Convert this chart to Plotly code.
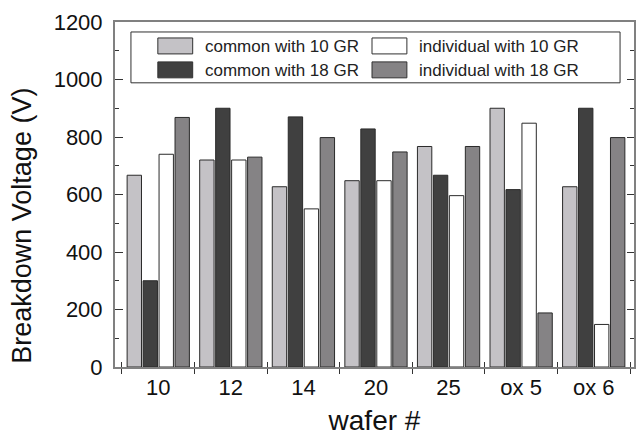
import plotly.graph_objects as go

# Breakdown voltage per wafer for the four guard-ring configurations
wafers = ["10", "12", "14", "20", "25", "ox 5", "ox 6"]
common_10gr = [667, 720, 627, 648, 767, 900, 627]
common_18gr = [300, 900, 870, 828, 667, 617, 900]
individual_10gr = [740, 720, 550, 648, 596, 848, 148]
individual_18gr = [868, 730, 798, 748, 767, 188, 798]

series_names = ["common with 10 GR", "common with 18 GR",
                "individual with 10 GR", "individual with 18 GR"]
series_values = [common_10gr, common_18gr, individual_10gr, individual_18gr]
series_colors = ["#c4c2c6", "#404040", "#ffffff", "#858385"]

y_range = [0, 1200]
x_range = [-0.596, 6.555]

fig = go.Figure()
for name, vals, col in zip(series_names, series_values, series_colors):
    fig.add_trace(go.Bar(
        x=wafers, y=vals, name=name,
        marker=dict(color=col, line=dict(color="#2a2a2a", width=1)),
        showlegend=False,
    ))

# Overlay axes carry the inward-pointing tick marks
fig.add_trace(go.Scatter(x=[None], y=[None], xaxis="x2", yaxis="y2",
                         showlegend=False, hoverinfo="skip"))

frame = "#808080"
font = "Arial, Liberation Sans, sans-serif"

fig.update_layout(
    width=639, height=436,
    margin=dict(l=115, r=3, t=22, b=68),
    paper_bgcolor="white", plot_bgcolor="white",
    barmode="group", bargap=0.12, bargroupgap=0.1,
    font=dict(family=font, color="#111111"),
    xaxis=dict(
        type="category", range=x_range, tickson="boundaries",
        ticks="outside", ticklen=5, tickcolor="#333333", tickwidth=1,
        showline=True, linecolor=frame, linewidth=2, mirror=True,
        showgrid=False, zeroline=False,
        tickfont=dict(size=22, family=font, color="#111111"),
        title=dict(text="wafer #", font=dict(size=28, family=font, color="#111111"),
                   standoff=13),
    ),
    yaxis=dict(
        range=y_range, dtick=200, ticks="inside", ticklen=8,
        tickcolor="#333333", tickwidth=1,
        minor=dict(dtick=100, ticks="inside", ticklen=4, tickcolor="#333333"),
        showline=True, linecolor=frame, linewidth=2, mirror=True,
        showgrid=False, zeroline=False, ticklabelstandoff=6,
        tickfont=dict(size=22, family=font, color="#111111"),
    ),
    xaxis2=dict(
        overlaying="x", range=x_range, side="bottom",
        tickmode="array", tickvals=[i - 0.5 for i in range(len(wafers) + 1)],
        ticks="inside", ticklen=5, tickcolor="#333333", tickwidth=1,
        showticklabels=False, showgrid=False, zeroline=False, showline=False,
    ),
    yaxis2=dict(
        overlaying="y", range=y_range, side="right", dtick=200,
        ticks="inside", ticklen=7, tickcolor="#333333", tickwidth=1,
        minor=dict(dtick=100, ticks="inside", ticklen=4, tickcolor="#333333"),
        showticklabels=False, showgrid=False, zeroline=False, showline=False,
    ),
)

# Boxed two-column key with wide swatches
L, R, B, T = 115, 636, 368, 22


def px(x):
    return (x - L) / (R - L)


def py(y):
    return (B - y) / (B - T)


shapes = [dict(type="rect", xref="paper", yref="paper",
               x0=px(131), x1=px(622), y0=py(83), y1=py(32),
               line=dict(color="#303030", width=1), fillcolor="white")]
annotations = [dict(xref="paper", yref="paper", x=px(22), y=py(226),
                    xanchor="center", yanchor="middle", showarrow=False,
                    textangle=-90, text="Breakdown Voltage (V)",
                    font=dict(size=27, family=font, color="#111111"))]
col_swatch = [158, 373]
col_text = [203, 418]
row_top = [38, 62]
order = [(0, 0), (1, 0), (0, 1), (1, 1)]  # (row, col) for each series
for (row, col), name, color in zip(order, series_names, series_colors):
    shapes.append(dict(type="rect", xref="paper", yref="paper",
                       x0=px(col_swatch[col]), x1=px(col_swatch[col] + 35),
                       y0=py(row_top[row] + 16), y1=py(row_top[row]),
                       line=dict(color="#303030", width=1), fillcolor=color))
    annotations.append(dict(xref="paper", yref="paper",
                            x=px(col_text[col]), y=py(row_top[row] + 8.5),
                            xanchor="left", yanchor="middle", showarrow=False,
                            text=name, font=dict(size=17, family=font, color="#222222")))

fig.update_layout(shapes=shapes, annotations=annotations)

fig.write_html("out.html")
